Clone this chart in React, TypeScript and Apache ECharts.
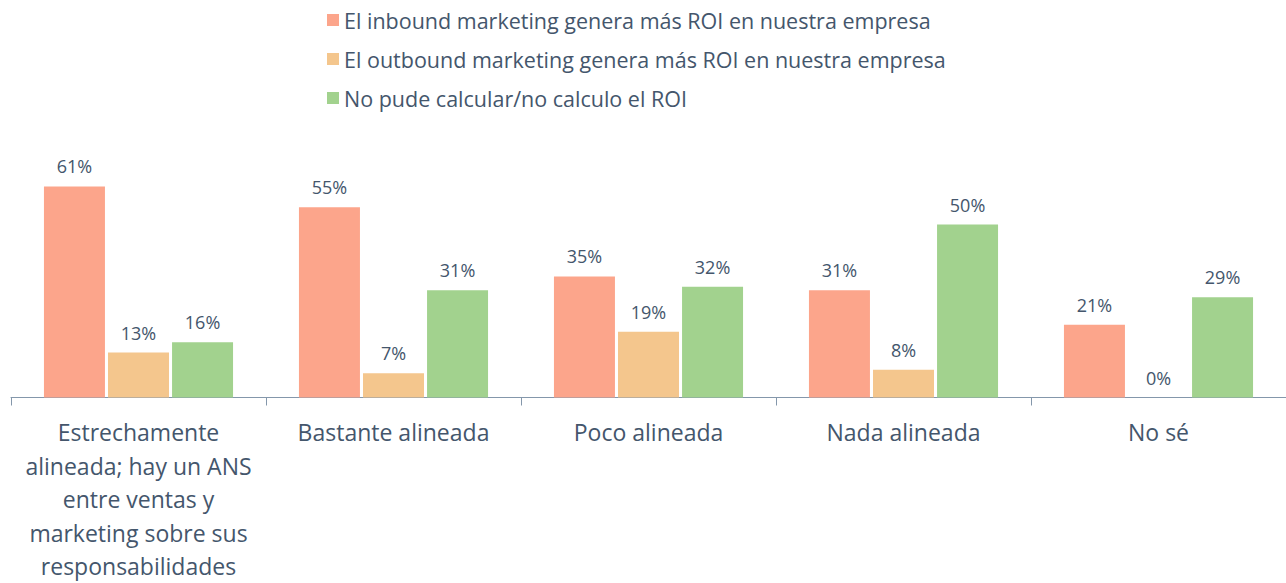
import React, { useEffect, useRef } from "react";
import * as echarts from "echarts";

const categories = [
  "Estrechamente\nalineada; hay un ANS\nentre ventas y\nmarketing sobre sus\nresponsabilidades",
  "Bastante alineada",
  "Poco alineada",
  "Nada alineada",
  "No sé",
];
const seriesNames = [
  "El inbound marketing genera más ROI en nuestra empresa",
  "El outbound marketing genera más ROI en nuestra empresa",
  "No pude calcular/no calculo el ROI",
];
const inbound = [61, 55, 35, 31, 21];
const outbound = [13, 7, 19, 8, 0];
const noCalc = [16, 31, 32, 50, 29];
const colors = ["#FCA58B", "#F4C68D", "#A2D28E"];

const textColor = "#44566C";
const font = "'Open Sans', 'Noto Sans', sans-serif";

export default function App() {
  const ref = useRef<HTMLDivElement>(null);
  useEffect(() => {
    if (!ref.current) return;
    const chart = echarts.init(ref.current, undefined, { renderer: "svg" });
    const values = [inbound, outbound, noCalc];
    chart.setOption({
      animation: false,
      textStyle: { fontFamily: font },
      legend: {
        orient: "vertical",
        left: 322,
        top: 4,
        itemWidth: 12,
        itemHeight: 12,
        itemGap: 17,
        icon: "rect",
        textStyle: { color: textColor, fontSize: 21.5, lineHeight: 20, fontFamily: font },
        data: seriesNames,
      },
      grid: { left: 11, right: -1, top: 51.5, bottom: 181.5, containLabel: false },
      xAxis: {
        type: "category",
        data: categories,
        axisLine: { lineStyle: { color: "#8497AB", width: 1 } },
        axisTick: { show: true, length: 8, lineStyle: { color: "#8497AB" } },
        axisLabel: {
          color: textColor,
          fontSize: 23,
          lineHeight: 33.5,
          margin: 18,
          interval: 0,
          fontFamily: font,
        },
      },
      yAxis: {
        type: "value",
        min: 0,
        max: 100,
        show: false,
        splitLine: { show: false },
      },
      series: values.map((v, i) => ({
        name: seriesNames[i],
        type: "bar",
        data: v,
        barWidth: 61,
        barGap: "5%",
        itemStyle: { color: colors[i] },
        label: {
          show: true,
          position: "top",
          distance: 11,
          formatter: "{c}%",
          color: textColor,
          fontSize: 18,
          fontFamily: font,
        },
      })),
    });
    return () => chart.dispose();
  }, []);
  return (
    <div
      ref={ref}
      style={{ position: "fixed", left: 0, top: 0, width: 1286, height: 583, background: "#fff" }}
    />
  );
}
